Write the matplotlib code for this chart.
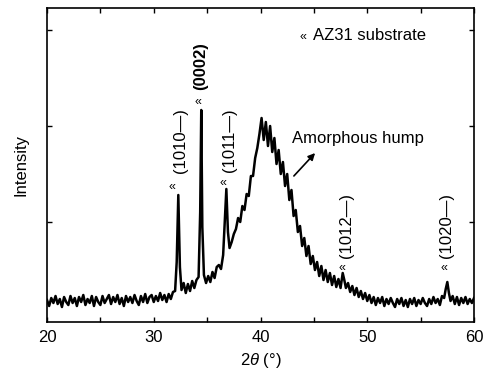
import matplotlib
matplotlib.use("Agg")
import matplotlib.pyplot as plt

plt.rcParams['font.family'] = ['Liberation Sans', 'DejaVu Sans']
plt.rcParams['mathtext.fontset'] = 'custom'
plt.rcParams['mathtext.it'] = 'Liberation Sans:italic'
plt.rcParams['mathtext.rm'] = 'Liberation Sans'

# 2theta (deg) and intensity (a.u.)
two_theta = [
    20.0, 20.2, 20.4, 20.6, 20.8, 21.0, 21.2, 21.4, 21.6, 21.8,
    22.0, 22.2, 22.4, 22.6, 22.8, 23.0, 23.2, 23.4, 23.6, 23.8,
    24.0, 24.2, 24.4, 24.6, 24.8, 25.0, 25.2, 25.4, 25.6, 25.8,
    26.0, 26.2, 26.4, 26.6, 26.8, 27.0, 27.2, 27.4, 27.6, 27.8,
    28.0, 28.2, 28.4, 28.6, 28.8, 29.0, 29.2, 29.4, 29.6, 29.8,
    30.0, 30.2, 30.4, 30.6, 30.8, 31.0, 31.2, 31.4, 31.6, 31.8,
    32.0, 32.15, 32.3, 32.45, 32.6, 32.8, 33.0, 33.2, 33.4, 33.6,
    33.8, 34.0, 34.2, 34.35, 34.45, 34.55, 34.7, 34.9, 35.1, 35.3,
    35.5, 35.7, 35.9, 36.1, 36.3, 36.5, 36.65, 36.8, 36.95, 37.1,
    37.3, 37.5, 37.7, 37.9, 38.1, 38.3, 38.5, 38.7, 38.9, 39.1,
    39.3, 39.5, 39.7, 39.9, 40.1, 40.3, 40.5, 40.7, 40.9, 41.1,
    41.3, 41.5, 41.7, 41.9, 42.1, 42.3, 42.5, 42.7, 42.9, 43.1,
    43.3, 43.5, 43.7, 43.9, 44.1, 44.3, 44.5, 44.7, 44.9, 45.1,
    45.3, 45.5, 45.7, 45.9, 46.1, 46.3, 46.5, 46.7, 46.9, 47.1,
    47.3, 47.5, 47.7, 47.85, 48.0, 48.2, 48.4, 48.6, 48.8, 49.0,
    49.2, 49.4, 49.6, 49.8, 50.0, 50.2, 50.4, 50.6, 50.8, 51.0,
    51.2, 51.4, 51.6, 51.8, 52.0, 52.2, 52.4, 52.6, 52.8, 53.0,
    53.2, 53.4, 53.6, 53.8, 54.0, 54.2, 54.4, 54.6, 54.8, 55.0,
    55.2, 55.4, 55.6, 55.8, 56.0, 56.2, 56.4, 56.6, 56.8, 57.0,
    57.2, 57.35, 57.5, 57.65, 57.8, 58.0, 58.2, 58.4, 58.6, 58.8,
    59.0, 59.2, 59.4, 59.6, 59.8, 60.0,
]
intensity = [
    22, 16, 24, 19, 26, 18, 23, 15, 25, 20,
    17, 26, 19, 24, 16, 25, 20, 27, 17, 23,
    19, 26, 16, 25, 20, 17, 26, 19, 23, 27,
    18, 25, 20, 27, 18, 24, 16, 26, 20, 25,
    19, 27, 21, 17, 26, 20, 28, 19, 25, 27,
    20, 26, 21, 29, 22, 27, 20, 28, 23, 30,
    31, 60, 127, 55, 32, 39, 29, 38, 31, 41,
    34, 42, 45, 110, 212, 95, 47, 39, 46, 40,
    50, 44, 55, 57, 53, 67, 100, 133, 90, 74,
    80, 88, 93, 104, 100, 116, 112, 128, 126, 146,
    146, 164, 174, 188, 204, 182, 200, 176, 196, 170,
    184, 158, 172, 148, 160, 136, 148, 122, 132, 106,
    112, 90, 96, 76, 84, 66, 76, 58, 66, 52,
    60, 46, 56, 42, 52, 40, 49, 37, 46, 35,
    43, 34, 49, 42, 34, 39, 30, 36, 27, 34,
    25, 31, 23, 29, 21, 27, 19, 25, 17, 24,
    19, 25, 16, 23, 18, 24, 19, 15, 23, 18,
    24, 16, 22, 15, 23, 18, 24, 16, 22, 18,
    24, 19, 16, 23, 18, 25, 19, 23, 17, 26,
    24, 33, 40, 29, 21, 26, 18, 25, 17, 24,
    19, 25, 18, 23, 19, 24,
]

# peak markers and labels: (x, y, text)
marker_pos = [(31.71, 135), (34.15, 220), (36.49, 139), (47.63, 54), (57.19, 54)]
peak_labels = [
    (32.55, 181, '(1010—)', 'normal'),
    (34.43, 256, '(0002)', 'bold'),
    (37.05, 182, '(1011—)', 'normal'),
    (48.10, 97, '(1012—)', 'normal'),
    (57.38, 97, '(1020—)', 'normal'),
]

fig = plt.figure(figsize=(4.83, 3.76), dpi=100)
ax = fig.add_axes([0.0973, 0.1436, 0.8841, 0.8351])
ax.plot(two_theta, intensity, color='black', lw=1.8)

ax.set_xlim(20, 60)
ax.set_ylim(0, 314)
ax.set_xticks([20, 30, 40, 50, 60])
ax.set_xticks([25, 35, 45, 55], minor=True)
ax.set_yticks([100, 196, 292])
ax.set_yticklabels([])
ax.tick_params(which='both', direction='in', top=True, right=True, length=3.5, width=1)
ax.tick_params(axis='x', labelsize=12, pad=6)
for s in ax.spines.values():
    s.set_linewidth(1.2)

ax.set_xlabel(r'$\mathit{2\theta}$ (°)', fontsize=12, labelpad=4)
ax.set_ylabel('Intensity', fontsize=12, labelpad=10)

for x, y in marker_pos:
    ax.text(x, y, '«', fontsize=9, ha='center', va='center')
for x, y, t, w in peak_labels:
    ax.text(x, y, t, fontsize=12, rotation=90, ha='center', va='center', fontweight=w)

ax.text(43.98, 285, '«', fontsize=9, ha='center', va='center')
ax.text(44.92, 287, 'AZ31 substrate', fontsize=12, ha='left', va='center')
ax.text(42.95, 184, 'Amorphous hump', fontsize=12, ha='left', va='center')
ax.annotate('', xy=(45.29, 171), xytext=(42.95, 144),
            arrowprops=dict(arrowstyle='-|>', color='black', lw=1.2, mutation_scale=10))

fig.savefig('out.png', dpi=100)
